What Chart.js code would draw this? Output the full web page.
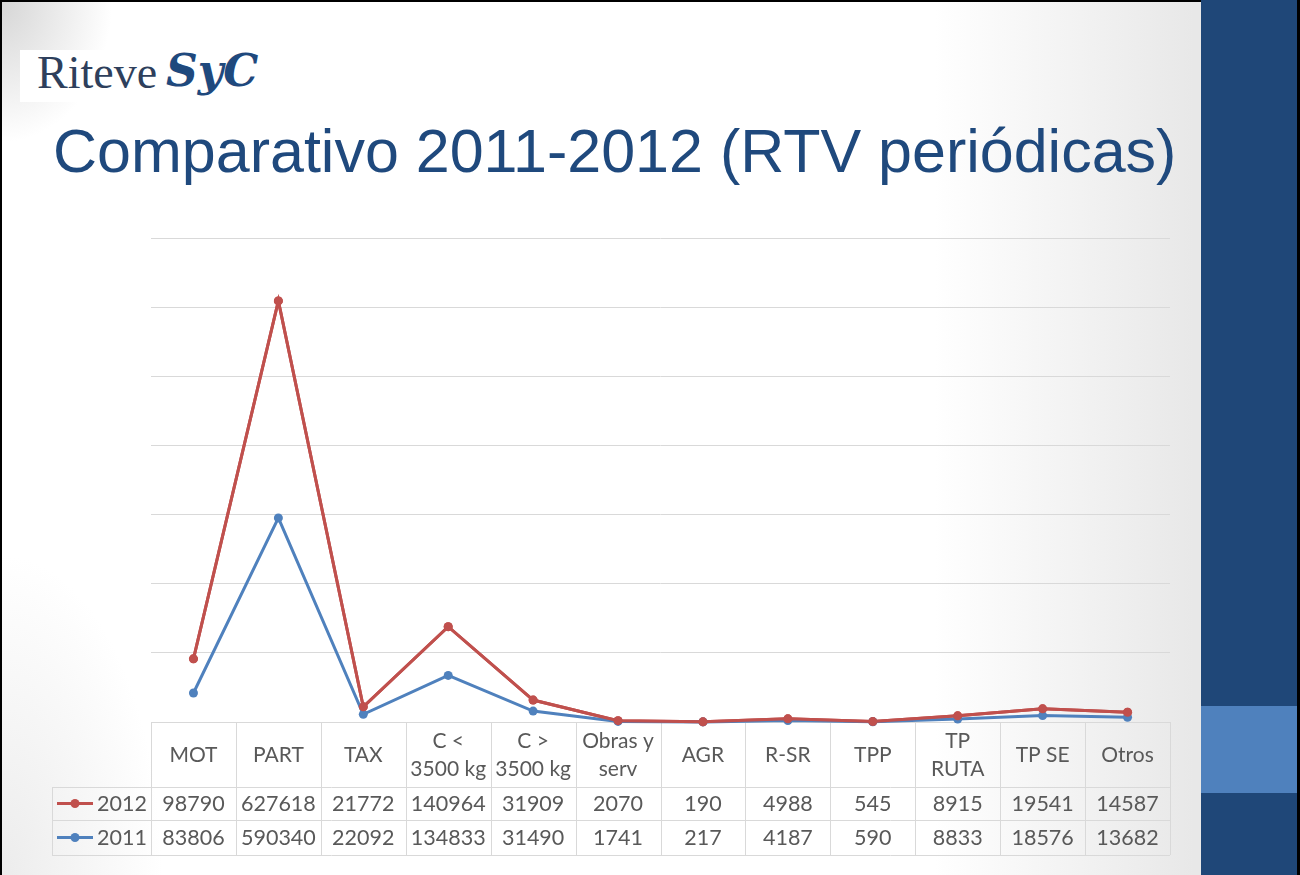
<!DOCTYPE html>
<html>
<head>
<meta charset="utf-8">
<script src="https://cdn.jsdelivr.net/npm/chart.js@4.4.1/dist/chart.umd.min.js"></script>
<style>
  html, body { margin: 0; padding: 0; }
  body { width: 1300px; height: 875px; overflow: hidden; position: relative; background: #fff; }
  #slide {
    position: absolute; left: 0; top: 0; width: 1300px; height: 875px; box-sizing: border-box;
    border-top: 2px solid #000; border-left: 2px solid #000; border-right: 3px solid #000;
    background:
      radial-gradient(ellipse 110px 140px at 0 0, #d6d6d6, rgba(255,255,255,0) 100%),
      radial-gradient(ellipse 160px 320px at 0 100%, #ececec, rgba(255,255,255,0) 100%),
      linear-gradient(to right, #ffffff 0%, #ffffff 72%, #e8e8e8 92%);
  }
  #panel { position: absolute; left: 1201px; top: 0; width: 96px; height: 875px; background: #1f4778; }
  #band { position: absolute; left: 1201px; top: 706px; width: 96px; height: 87px; background: #4f81bd; }
  #logo { position: absolute; left: 20px; top: 50px; width: 260px; height: 52px; background: #fff; }
  #logo .r { position: absolute; left: 17px; top: -2px; font: 46px "Liberation Serif", serif; color: #2e3f5c;
    line-height: 1.1; }
  #logo .s { position: absolute; left: 146px; top: -3px; font: italic bold 44px "DejaVu Serif", serif; color: #1f497d;
    line-height: 1.1; }
  #title { position: absolute; left: 53px; top: 121px; font: 61px "Liberation Sans", Arial, sans-serif;
    color: #1f497d; line-height: 1; white-space: nowrap; }
  canvas { position: absolute; left: 0; top: 0; }
</style>
</head>
<body>
<div id="slide"></div>
<div id="panel"></div>
<div id="band"></div>
<div id="logo"><span class="r">Riteve</span><span class="s">SyC</span></div>
<div id="title">Comparativo 2011-2012 (RTV periódicas)</div>
<canvas id="chart" width="1300" height="875"></canvas>
<script>
const categories = [
    ['MOT'], ['PART'], ['TAX'], ['C <', '3500 kg'], ['C >', '3500 kg'], ['Obras y', 'serv'],
    ['AGR'], ['R-SR'], ['TPP'], ['TP', 'RUTA'], ['TP SE'], ['Otros']
];
const values2012 = [98790, 627618, 21772, 140964, 31909, 2070, 190, 4988, 545, 8915, 19541, 14587];
const values2011 = [83806, 590340, 22092, 134833, 31490, 1741, 217, 4187, 590, 8833, 18576, 13682];
const yMax = 1400000;
const yStep = 200000;

const RED = '#c0504d';
const BLUE = '#4f81bd';
const GRID = '#d9d9d9';
const TEXT = '#595959';
const FONT = '"Lato", "Open Sans", sans-serif';

// rows of the data table under the plot, in the order they are listed
const tableRows = [
    { label: '2012', color: RED, values: values2012 },
    { label: '2011', color: BLUE, values: values2011 }
];

const dataTable = {
    id: 'dataTable',
    beforeDatasetsDraw(chart) {
        const { ctx, chartArea: a, scales: { x } } = chart;
        const n = categories.length;
        const colW = (a.right - a.left) / n;
        const headTop = a.bottom, headBot = a.bottom + 65;
        const rowH = [33, 35];
        const leftX = 52;

        ctx.save();
        ctx.strokeStyle = GRID;
        ctx.lineWidth = 1;
        ctx.beginPath();
        ctx.moveTo(a.left, headTop + 0.5); ctx.lineTo(a.right, headTop + 0.5);
        let y = headBot;
        const rowTops = [];
        for (let r = 0; r <= tableRows.length; r++) {
            ctx.moveTo(leftX, y + 0.5); ctx.lineTo(a.right, y + 0.5);
            if (r < tableRows.length) { rowTops.push(y); y += rowH[r]; }
        }
        const tableBot = y;
        for (let i = 0; i <= n; i++) {
            const px = Math.round(a.left + i * colW) + 0.5;
            ctx.moveTo(px, headTop); ctx.lineTo(px, tableBot);
        }
        ctx.moveTo(leftX + 0.5, headBot); ctx.lineTo(leftX + 0.5, tableBot);
        ctx.stroke();

        ctx.fillStyle = TEXT;
        ctx.textAlign = 'center';
        ctx.textBaseline = 'middle';
        ctx.font = '21px ' + FONT;
        const headMid = (headTop + headBot) / 2 + 1;
        categories.forEach((lines, i) => {
            const cx = x.getPixelForValue(i);
            if (lines.length === 1) {
                ctx.fillText(lines[0], cx, headMid);
            } else {
                ctx.fillText(lines[0], cx, headMid - 14);
                ctx.fillText(lines[1], cx, headMid + 14);
            }
        });

        ctx.font = '21.5px ' + FONT;
        tableRows.forEach((row, r) => {
            const cy = rowTops[r] + rowH[r] / 2 + 1;
            row.values.forEach((v, i) => {
                ctx.fillStyle = TEXT;
                ctx.textAlign = 'center';
                ctx.fillText(String(v), x.getPixelForValue(i), cy);
            });
            ctx.strokeStyle = row.color;
            ctx.lineWidth = 3;
            ctx.beginPath();
            ctx.moveTo(57, cy - 1); ctx.lineTo(93, cy - 1);
            ctx.stroke();
            ctx.fillStyle = row.color;
            ctx.beginPath();
            ctx.arc(75, cy - 1, 4.5, 0, Math.PI * 2);
            ctx.fill();
            ctx.fillStyle = TEXT;
            ctx.textAlign = 'right';
            ctx.fillText(row.label, 147, cy);
        });
        ctx.restore();
    },
    afterDatasetsDraw(chart) {
        // 2012 is stacked on top of 2011; draw it last so it sits over the blue line
        chart.getDatasetMeta(1).controller.draw();
    }
};

new Chart(document.getElementById('chart'), {
    type: 'line',
    data: {
        labels: categories,
        datasets: [
            {
                label: '2011', data: values2011, borderColor: BLUE, backgroundColor: BLUE,
                borderWidth: 3, pointRadius: 4.5, pointBorderWidth: 0, tension: 0, clip: false
            },
            {
                label: '2012', data: values2012, borderColor: RED, backgroundColor: RED,
                borderWidth: 3, pointRadius: 4.5, pointBorderWidth: 0, tension: 0, clip: false
            }
        ]
    },
    options: {
        responsive: false,
        animation: false,
        devicePixelRatio: 1,
        layout: { padding: { left: 151, right: 130, top: 238, bottom: 153 } },
        plugins: { legend: { display: false }, tooltip: { enabled: false } },
        scales: {
            x: { display: false, offset: true },
            y: {
                stacked: true, min: 0, max: yMax,
                ticks: { display: false, stepSize: yStep },
                grid: { color: GRID, drawTicks: false, lineWidth: 1 },
                border: { display: false },
                afterFit(s) { s.width = 0; }
            }
        }
    },
    plugins: [dataTable]
});
</script>
</body>
</html>
